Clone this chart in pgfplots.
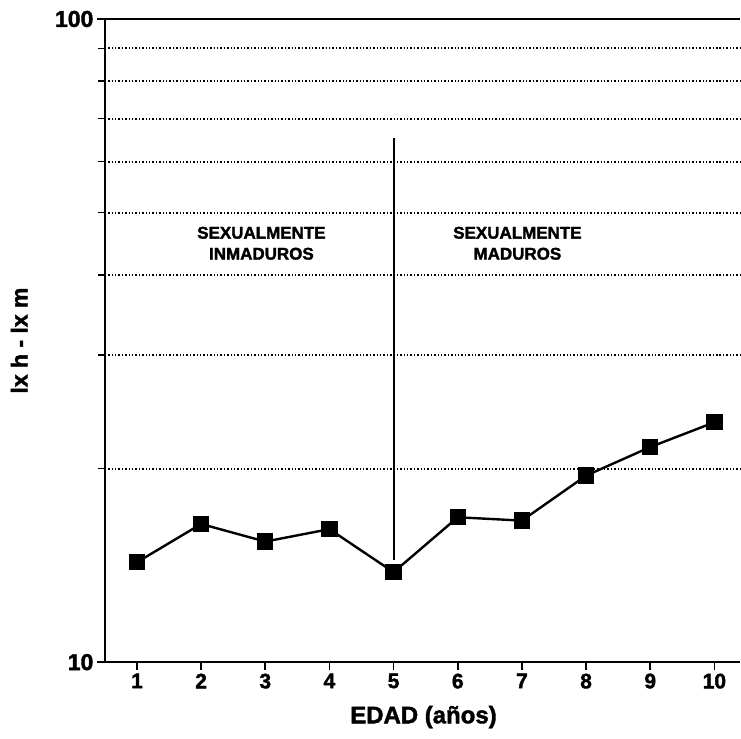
\documentclass[border=0pt]{standalone}
\usepackage{pgfplots}
\pgfplotsset{compat=1.18}
\usepackage{fontspec}
\setmainfont{Liberation Sans}
\newfontfamily\heavy{Liberation Sans Bold}[FakeBold=1.8]
\begin{document}
\begin{tikzpicture}
\begin{axis}[
  scale only axis,
  width=636pt, height=644pt,
  xmin=0.5, xmax=10.4,
  ymode=log, ymin=10, ymax=100,
  axis lines*=left,
  axis line style={line width=1.8pt},
  xtick={1,2,3,4,5,6,7,8,9,10},
  ytick={10,100}, yticklabels={10,100},
  minor ytick={20,30,40,50,60,70,80,90},
  ymajorgrids=true, yminorgrids=true,
  major grid style={solid, black, line width=1.8pt},
  minor grid style={black, line width=1.9pt, dash pattern=on 1.4pt off 2pt},
  tick align=outside,
  major tick length=8pt, minor tick length=7pt,
  tick style={black, line width=1.6pt},
  /pgf/number format/assume math mode=true,
  xticklabel style={font=\fontsize{21}{23}\selectfont\heavy},
  yticklabel style={font=\fontsize{23}{25}\selectfont\heavy},
  xlabel={EDAD (años)},
  ylabel={lx h - lx m},
  xlabel style={font=\fontsize{24}{26}\selectfont\heavy, at={(axis description cs:0.5016,-0.0854)}, anchor=center},
  ylabel style={font=\fontsize{23}{25}\selectfont\heavy, at={(axis description cs:-0.135,0.5)}, anchor=center},
]
\addplot[black, line width=2.4pt, mark=square*, mark size=7pt, mark options={solid}] coordinates {
  (1,14.3) (2,16.4) (3,15.4) (4,16.1) (5,13.8) (6,16.8) (7,16.6) (8,19.5) (9,21.6) (10,23.6)
};
\addplot[black, line width=2pt, no marks] coordinates {(5,14.4) (5,65.3)};
\node[align=center, font=\fontsize{17}{21}\selectfont\heavy] at (axis cs:2.94,44.8) {SEXUALMENTE\\INMADUROS};
\node[align=center, font=\fontsize{17}{21}\selectfont\heavy] at (axis cs:6.93,44.8) {SEXUALMENTE\\MADUROS};
\end{axis}
\path (current axis.south west) ++(-105pt,-76pt);
\path (current axis.north east) ++(0pt,19pt);
\end{tikzpicture}
\end{document}
